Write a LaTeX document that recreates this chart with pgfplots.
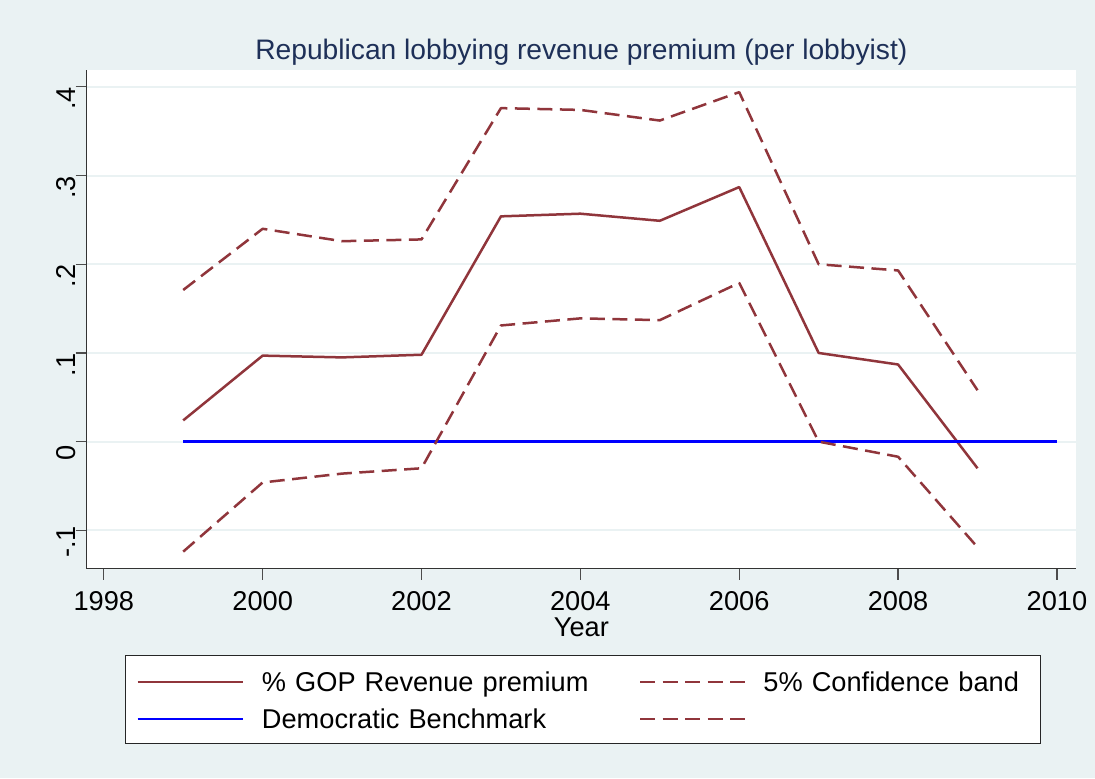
\documentclass[border=0pt]{standalone}
\usepackage{pgfplots}
\pgfplotsset{compat=1.18}
\usepackage{fontspec}
\setmainfont{Liberation Sans}
\usetikzlibrary{backgrounds,calc}
\definecolor{bg}{RGB}{234,242,243}
\definecolor{statamaroon}{RGB}{144,53,59}
\definecolor{titlenavy}{RGB}{30,48,88}
\newcommand{\cf}{\fontsize{13.6}{16}\selectfont}
\newcommand{\tf}{\fontsize{14.1}{16.5}\selectfont}
\begin{document}
\begin{tikzpicture}
\begin{axis}[
  name=ax,
  at={(0,0)}, anchor=south west,
  scale only axis,
  width=494.65pt, height=249.25pt,
  xmin=1997.785, xmax=2010.24,
  ymin=-0.143, ymax=0.419,
  axis lines*=left,
  axis line style={black!80, line width=0.7pt},
  axis background/.style={fill=white},
  xtick={1998,2000,2002,2004,2006,2008,2010},
  xticklabels={1998,2000,2002,2004,2006,2008,2010},
  ytick={-0.1,0,0.1,0.2,0.3,0.4},
  yticklabels={-.1,0,.1,.2,.3,.4},
  tick align=outside,
  major tick length=5.5pt,
  tick style={black!70, line width=0.6pt},
  ymajorgrids,
  grid style={bg, line width=1pt},
  tick label style={font=\cf},
  xticklabel style={anchor=base, yshift=-15.7pt},
  yticklabel style={rotate=90, anchor=base, xshift=-5.85pt},
  xlabel={Year},
  xlabel style={font=\cf, at={(axis description cs:0.5,0)}, anchor=base, yshift=-33.75pt},
  title={Republican lobbying revenue premium (per lobbyist)},
  title style={font=\tf, color=titlenavy, at={(axis description cs:0.5,1)}, anchor=base, yshift=-1pt},
  legend columns=2,
  legend cell align=left,
  legend image code/.code={\draw[#1] (0pt,5pt) -- (52.5pt,5pt);},
  legend style={
    at={(axis description cs:0.0392,-0.1735)}, anchor=north west,
    draw=black!85, fill=white, font=\cf,
    inner xsep=5.25pt, inner ysep=6.25pt, row sep=5.5pt,
    nodes={inner sep=0pt, text height=12pt, text depth=1pt, anchor=base west},
    /tikz/column 1/.style={column sep=9pt},
    /tikz/column 2/.style={column sep=0pt, nodes={text width=188.5pt}},
    /tikz/column 3/.style={column sep=8.5pt},
    /tikz/column 4/.style={nodes={text width=133.25pt}},
  },
]
\addplot[statamaroon, line width=1.25pt, line join=round] coordinates {
 (1999,0.024) (2000,0.097) (2001,0.095) (2002,0.098) (2003,0.254) (2004,0.257)
 (2005,0.249) (2006,0.287) (2007,0.100) (2008,0.087) (2009,-0.030)};
\addlegendentry{\% GOP Revenue premium}
\addplot[statamaroon, line width=1.25pt, line join=round, dash pattern=on 7.5pt off 3.75pt] coordinates {
 (1999,0.171) (2000,0.240) (2001,0.226) (2002,0.228) (2003,0.376) (2004,0.374)
 (2005,0.362) (2006,0.394) (2007,0.200) (2008,0.193) (2009,0.058)};
\addlegendentry{5\% Confidence band}
\addplot[blue, line width=1.3pt] coordinates {
 (1999,0) (2000,0) (2001,0) (2002,0) (2003,0) (2004,0) (2005,0) (2006,0)
 (2007,0) (2008,0) (2009,0) (2010,0)};
\addlegendentry{Democratic Benchmark}
\addplot[statamaroon, line width=1.25pt, line join=round, dash pattern=on 7.5pt off 3.75pt] coordinates {
 (1999,-0.124) (2000,-0.046) (2001,-0.036) (2002,-0.030) (2003,0.131) (2004,0.139)
 (2005,0.137) (2006,0.179) (2007,0.000) (2008,-0.017) (2009,-0.119)};
\addlegendentry{\mbox{}}
\end{axis}
\begin{scope}[on background layer]
\fill[bg] ($(ax.south west)+(-43.35pt,-104.75pt)$) rectangle ($(ax.south west)+(504.15pt,284.25pt)$);
\end{scope}
\pgfresetboundingbox
\path ($(ax.south west)+(-43.35pt,-104.75pt)$) rectangle ($(ax.south west)+(504.15pt,284.25pt)$);
\end{tikzpicture}
\end{document}
